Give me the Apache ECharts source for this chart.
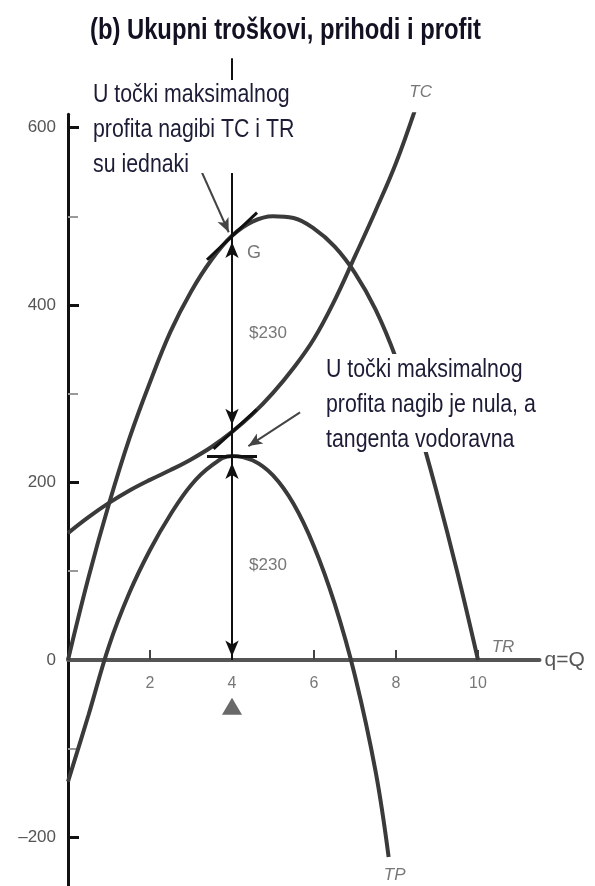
<!DOCTYPE html>
<html>
<head>
<meta charset="utf-8">
<script src="https://cdn.jsdelivr.net/npm/echarts@6/dist/echarts.min.js"></script>
<style>
html, body { margin: 0; padding: 0; background: #fff; }
#main { width: 595px; height: 886px; }
</style>
</head>
<body>
<div id="main"></div>
<script>
// curve values (q -> $)
const trQ = [0, 0.5, 1, 1.5, 2, 2.5, 3, 3.5, 4, 4.5, 5, 5.5, 6, 6.5, 7, 7.5, 8, 8.5, 9, 9.5, 10];
const trV = [0, 93, 176, 250, 313, 370, 415, 451, 478, 494, 500, 498, 486, 466, 436, 395, 340, 270, 188, 98, 0];

const tcQ = [0, 0.5, 1, 1.5, 2, 2.5, 3, 3.5, 4, 4.5, 5, 5.5, 6, 6.5, 7, 7.5, 8, 8.48];
const tcV = [143, 161, 177, 191, 203, 214, 226, 240, 257, 277, 301, 329, 362, 405, 455, 506, 560, 622];

const tpQ = [0, 0.5, 1, 1.5, 2, 2.5, 3, 3.5, 4, 4.5, 5, 5.5, 6, 6.5, 7, 7.5, 7.82];
const tpV = [-137, -62, 16, 76, 124, 164, 197, 219, 230, 225, 208, 176, 128, 64, -18, -125, -222];

// tick labels
const xTicks = [2, 4, 6, 8, 10];
const yLabels = [-200, 0, 200, 400, 600];
const yMajor = [-200, 200, 400, 600];
const yMinor = [-100, 100, 300, 500];

// profit maximising output and the marked levels
const qStar = 4;
const trAtStar = 478;
const tcAtStar = 257;
const tpAtStar = 230;
const gapLabels = [368, 107];   // where the two "$230" texts sit
const guideTop = 678;           // vertical guide starts above the plot

const pairs = (q, v) => q.map((x, i) => [x, v[i]]);

const sans = "'Liberation Sans', Arial, sans-serif";
const curve = { color: '#3a3a3a', width: 4 };

const chart = echarts.init(document.getElementById('main'));

const note = (value, text, offset, extra) => ({
	value: value,
	label: Object.assign({
		show: true, formatter: text, position: 'inside', offset: offset,
		color: '#555', fontFamily: sans, fontSize: 17
	}, extra || {})
});

// narrow look: Liberation Sans squeezed sideways
const narrowText = (x, y, text, size, extra) => ({
	type: 'text', z: 51, x: x, y: y, scaleX: 0.82,
	style: Object.assign({ text: text, fontFamily: sans, fontSize: size, fill: '#1c1c36' }, extra || {})
});

const option = {
	animation: false,
	grid: { left: 68, right: 55.5, top: 114.2, height: 772.1, outerBoundsMode: 'none', containLabel: false },
	xAxis: {
		type: 'value', min: 0, max: 11.5,
		name: 'q=Q', nameLocation: 'end', nameGap: 5,
		nameTextStyle: { color: '#555', fontFamily: sans, fontSize: 21 },
		axisLine: { lineStyle: { color: '#555', width: 4 } },
		axisTick: { inside: true, length: 10, customValues: xTicks, lineStyle: { color: '#444', width: 2 } },
		axisLabel: { show: false },
		splitLine: { show: false }
	},
	yAxis: [{
		type: 'value', min: -255, max: 615,
		axisLine: { lineStyle: { color: '#111', width: 3 } },
		axisTick: { inside: true, length: 11, customValues: yMajor, lineStyle: { color: '#111', width: 3 } },
		axisLabel: {
			customValues: yLabels, margin: 12, color: '#555', fontFamily: sans, fontSize: 17,
			formatter: v => v < 0 ? '\u2013' + Math.abs(v) : String(v)
		},
		splitLine: { show: false }
	}, {
		type: 'value', min: -255, max: 615, position: 'left',
		axisLine: { show: false },
		axisTick: { show: true, inside: true, length: 10, customValues: yMinor, lineStyle: { color: '#999', width: 2 } },
		axisLabel: { show: false },
		splitLine: { show: false }
	}],
	graphic: [
		narrowText(90, 31, '(b) Ukupni troškovi, prihodi i profit', 29,
			{ fontWeight: 'bold', fill: '#111122', verticalAlign: 'middle' }),
		{ type: 'rect', z: 50, shape: { x: 88, y: 80, width: 226, height: 93 }, style: { fill: '#fff' } },
		narrowText(93, 77, 'U točki maksimalnog\nprofita nagibi TC i TR\nsu iednaki', 26, { lineHeight: 35 }),
		{ type: 'rect', z: 50, shape: { x: 322, y: 354, width: 228, height: 98 }, style: { fill: '#fff' } },
		narrowText(326, 352, 'U točki maksimalnog\nprofita nagib je nula, a\ntangenta vodoravna', 26, { lineHeight: 35 })
	],
	series: [
		{ name: 'TR', type: 'line', smooth: 0.4, showSymbol: false, data: pairs(trQ, trV), lineStyle: curve, z: 3 },
		{ name: 'TC', type: 'line', smooth: 0.4, showSymbol: false, data: pairs(tcQ, tcV), lineStyle: curve, z: 3 },
		{ name: 'TP', type: 'line', smooth: 0.4, showSymbol: false, data: pairs(tpQ, tpV), lineStyle: curve, z: 3 },
		{
			// vertical guide at q* with the two double arrows
			name: 'guide', type: 'line', clip: false, showSymbol: false, z: 4,
			data: [[qStar, guideTop], [qStar, 0]],
			lineStyle: { color: '#111', width: 2 },
			markLine: {
				silent: true, symbol: ['arrow', 'arrow'], symbolSize: [10, 16],
				label: { show: false },
				lineStyle: { color: '#111', width: 2, type: 'solid' },
				data: [
					[{ coord: [qStar, tcAtStar + 8] }, { coord: [qStar, trAtStar - 7] }],
					[{ coord: [qStar, 4] }, { coord: [qStar, tpAtStar - 8] }]
				]
			}
		},
		{
			// tangents at G, on TC and the flat one on TP
			name: 'tangents', type: 'line', data: [], z: 5,
			markLine: {
				silent: true, symbol: ['none', 'none'],
				label: { show: false },
				lineStyle: { color: '#111', width: 3, type: 'solid' },
				data: [
					[{ coord: [3.39, 451] }, { coord: [4.61, 504] }],
					[{ coord: [3.55, 238] }, { coord: [4.6, 282] }],
					[{ coord: [3.39, tpAtStar] }, { coord: [4.61, tpAtStar] }]
				]
			}
		},
		{
			// pointers from the two notes
			name: 'pointers', type: 'line', data: [], z: 60,
			markLine: {
				silent: true, symbol: ['none', 'arrow'], symbolSize: [9, 14],
				label: { show: false },
				lineStyle: { color: '#444', width: 2, type: 'solid' },
				data: [
					[{ coord: [3.27, 549] }, { coord: [3.92, 482] }],
					[{ coord: [5.66, 279] }, { coord: [4.4, 241] }]
				]
			}
		},
		{
			name: 'notes', type: 'scatter', symbolSize: 0, clip: false, z: 6,
			data: [
				note([qStar, trAtStar], 'G', [22, 17], { fontSize: 18 }),
				note([qStar, gapLabels[0]], '$230', [36, 0]),
				note([qStar, gapLabels[1]], '$230', [36, 0]),
				note([tcQ[tcQ.length - 1], tcV[tcV.length - 1]], 'TC', [5, -16], { fontStyle: 'italic' }),
				note([trQ[trQ.length - 1], trV[trV.length - 1]], 'TR', [25, -13], { fontStyle: 'italic' }),
				note([tpQ[tpQ.length - 1], tpV[tpV.length - 1]], 'TP', [6, 18], { fontStyle: 'italic' })
			].concat(xTicks.map(v => note([v, 0], String(v), [0, 24], { fontSize: 16 })))
		},
		{
			name: 'marker', type: 'scatter', symbol: 'triangle', symbolSize: [20, 17], z: 6,
			itemStyle: { color: '#444' },
			data: [[qStar, -52]]
		}
	]
};

chart.setOption(option);
</script>
</body>
</html>
